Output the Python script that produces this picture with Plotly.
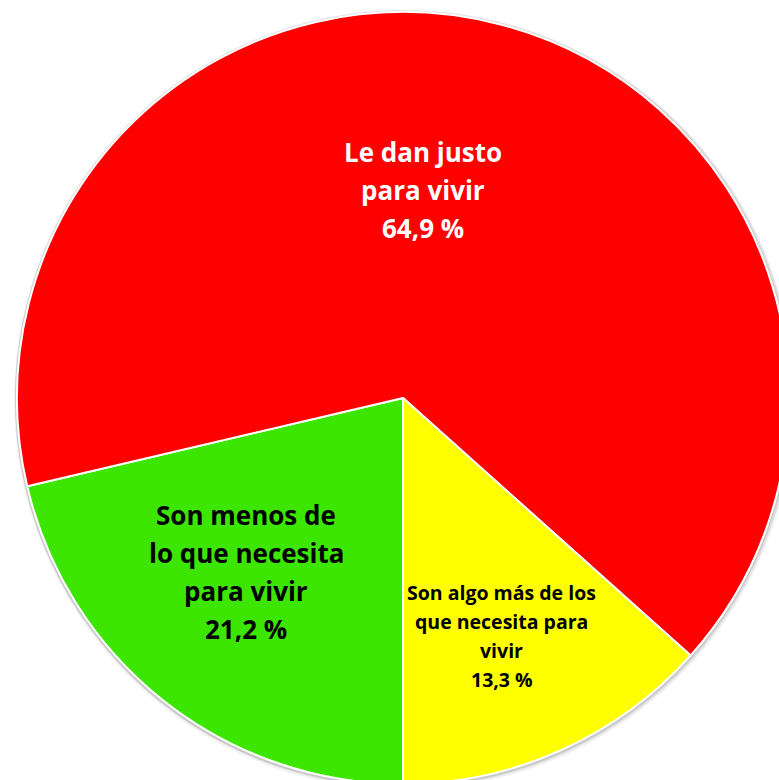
import plotly.graph_objects as go

# ---- data (listed in clockwise order starting at 6 o'clock) ----
categories = [
    "Son menos de<br>lo que necesita<br>para vivir",
    "Le dan justo<br>para vivir",
    "Son algo más de los<br>que necesita para<br>vivir",
]
values = [21.2, 64.9, 13.3]
value_labels = ["21,2 %", "64,9 %", "13,3 %"]
colors = ["#3CE600", "#FF0000", "#FFFF00"]
text_colors = ["#000000", "#FFFFFF", "#000000"]

# ---- layout constants ----
W, H = 800, 800            # figure larger than window -> cropped like reference
CX, CY, R = 403, 398, 386  # pie centre / radius in screen px


def px_to_paper(x, y):
    return x / W, 1 - y / H


def domain_for(cx, cy, r):
    cxp, cyp = px_to_paper(cx, cy)
    return dict(x=[cxp - r / W, cxp + r / W], y=[cyp - r / H, cyp + r / H])


fig = go.Figure()

# soft drop shadow (decorative)
for dr, dx, dy, alpha in [(4, 1, 2, 0.05), (3, 1, 1, 0.07), (2, 0, 1, 0.10)]:
    fig.add_trace(
        go.Pie(
            values=[1], labels=["shadow"], sort=False,
            marker=dict(colors=[f"rgba(0,0,0,{alpha})"], line=dict(width=0)),
            textinfo="none", hoverinfo="skip", showlegend=False,
            domain=domain_for(CX + dx, CY + dy, R + dr),
        )
    )

fig.add_trace(
    go.Pie(
        labels=[c.replace("<br>", " ") for c in categories],
        values=values,
        sort=False,
        direction="clockwise",
        rotation=180,
        marker=dict(colors=colors, line=dict(color="white", width=2)),
        textinfo="none",
        hoverinfo="label+percent",
        showlegend=False,
        domain=domain_for(CX, CY, R),
    )
)

# label placement: (centre x px, first line y px, font size, line spacing)
label_pos = [
    (246, 515, 26, 38),
    (423, 152, 26, 38),
    (502, 592, 19.5, 29),
]

annotations = []
for cat, val, tc, (lx, ly, fs, sp) in zip(categories, value_labels, text_colors, label_pos):
    lines = cat.split("<br>") + [val]
    for i, line in enumerate(lines):
        ax, ay = px_to_paper(lx, ly + i * sp)
        annotations.append(
            dict(
                x=ax, y=ay, xref="paper", yref="paper",
                text=f"<b>{line}</b>", showarrow=False,
                xanchor="center", yanchor="middle",
                font=dict(family="Open Sans", size=fs, color=tc),
            )
        )

fig.update_layout(
    width=W, height=H,
    margin=dict(l=0, r=0, t=0, b=0),
    paper_bgcolor="white", plot_bgcolor="white",
    annotations=annotations,
)

fig.write_html(
    "out.html",
    config={"displayModeBar": False},
    post_script="document.body.style.margin='0';document.body.style.overflow='hidden';"
    "document.documentElement.style.overflow='hidden';",
)
